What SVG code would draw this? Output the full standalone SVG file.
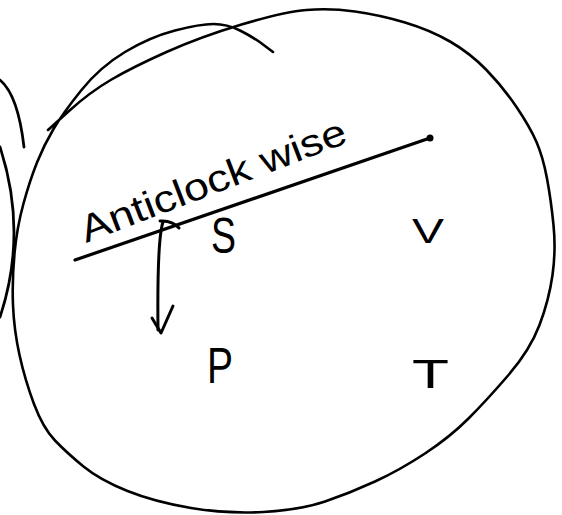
<svg xmlns="http://www.w3.org/2000/svg" width="562" height="515" viewBox="0 0 562 515">
<style>
.ink{fill:none;stroke:#000;stroke-linecap:round;stroke-linejoin:round}
.lbl{font-family:"Liberation Sans",Arial,sans-serif;fill:#000}
</style>
<rect width="562" height="515" fill="#fff"/>
<g id="circles">
<path class="ink" stroke-width="2.6" d="M48,130 L69,111 Q90,92 111.5,79.5 Q133,67 166.5,52 Q200,37 241.5,24.5 Q283,12 306.5,10 Q330,8 355,11.5 Q380,15 405,22.5 Q430,30 450,41.5 Q470,53 486.5,70 Q503,87 516.5,107 Q530,127 536.5,142 Q543,157 547,178.5 Q551,200 553.5,225 Q556,250 552.5,275 Q549,300 539.5,325 Q530,350 508.5,375 Q487,400 468.5,418.5 Q450,437 425,453.5 Q400,470 375,481.5 Q350,493 325,501.5 Q300,510 263.5,512 Q227,514 191,508 Q155,502 127.5,491 Q100,480 83.5,466.5 Q67,453 55,440.5 Q43,428 34,404 Q25,380 19.5,355 Q14,330 13,305 Q12,280 14.5,253.5 Q17,227 23.5,203.5 Q30,180 37,162.5 Q44,145 53.5,129 Q63,113 81.5,90 Q100,67 125,52 Q150,37 175,30.5 Q200,24 213.5,24 Q227,24 240,30.5 Q253,37 263,44.5 L273,52"/>
<path class="ink" stroke-width="2.8" d="M0,80 Q18,95 24,147"/>
<path class="ink" stroke-width="2.8" d="M0,147 Q28,233 0,317"/>
</g>
<g id="label-anticlockwise">
<text class="lbl" x="86" y="243" font-size="38" textLength="282" lengthAdjust="spacingAndGlyphs" transform="rotate(-21 86 243)">Anticlock wise</text>
<path class="ink" stroke-width="3.2" d="M75,260 Q250,200 430,138"/>
<circle cx="430" cy="138" r="3.5" fill="#000"/>
</g>
<g id="node-S"><text class="lbl" x="211" y="253" font-size="50" textLength="25" lengthAdjust="spacingAndGlyphs">S</text></g>
<g id="node-V"><text class="lbl" x="412" y="243" font-size="35" textLength="32" lengthAdjust="spacingAndGlyphs">V</text></g>
<g id="node-P"><text class="lbl" x="207" y="383" font-size="50" textLength="26" lengthAdjust="spacingAndGlyphs">P</text></g>
<g id="node-T"><text class="lbl" x="412" y="388" font-size="40" textLength="37" lengthAdjust="spacingAndGlyphs">T</text></g>
<g id="connectors">
<path class="ink" stroke-width="3" d="M163,222 Q157,240 158,330"/>
<path class="ink" stroke-width="3" d="M160,221 Q172,220 179,228"/>
<path class="ink" stroke-width="3" d="M152,318 L161,333 L173,306"/>
</g>
</svg>
